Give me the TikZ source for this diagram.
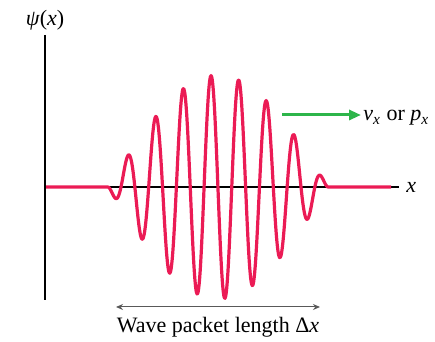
\documentclass[tikz,border=0pt]{standalone}
\usepackage{fontspec}
\setmainfont{Liberation Serif}
\usetikzlibrary{arrows.meta,positioning}
\definecolor{wavered}{RGB}{235,27,85}
\definecolor{movegreen}{RGB}{45,181,74}

\begin{document}
\begin{tikzpicture}[x=0.5pt,y=0.5pt,>=Stealth,font=\fontsize{11}{13}\selectfont,
 axis/.style={line width=0.6pt},
 wave/.style={wavered,line width=1.6pt,line join=round},
 lab/.style={inner sep=1pt}]
\useasboundingbox (0,0) rectangle (435,342);
\coordinate (top) at (45,307);
\coordinate (bot) at (45,42);
\coordinate (o) at (45,155);
\coordinate (xend) at (399,155);
\node[lab] (psi) at (45,322) {\textit{ψ}(\textit{x})};
\node[lab,anchor=west] (xl) at (404,155) {\textit{x}};
\draw[axis] (top) -- (bot);
\draw[axis] (o) -- (xend);
% the packet
\draw[wave] (46,155) -- (108,155) -- plot[domain=108:328,samples=300,smooth]
  (\x,{155+112*cos(0.818*(\x-218))*cos(13*(\x-211))}) -- (391,155);
% direction of motion
\coordinate (gs) at (282,227);
\node[lab,anchor=base west] (vp) at (361,221) {\textit{v}\textsubscript{\textit{x}} or \textit{p}\textsubscript{\textit{x}}};
\draw[movegreen,line width=1.5pt,-{Triangle[length=6pt,width=5pt]}] (gs) -- (vp.west|-gs);
% length
\coordinate (la) at (116,35);
\coordinate (lb) at (320,35);
\draw[gray!70!black,line width=0.5pt,{Stealth[length=3.5pt,width=3pt]}-{Stealth[length=3.5pt,width=3pt]}] (la) -- (lb);
\node[lab] (len) at (218,15) {Wave packet length Δ\textit{x}};
\end{tikzpicture}
\end{document}
